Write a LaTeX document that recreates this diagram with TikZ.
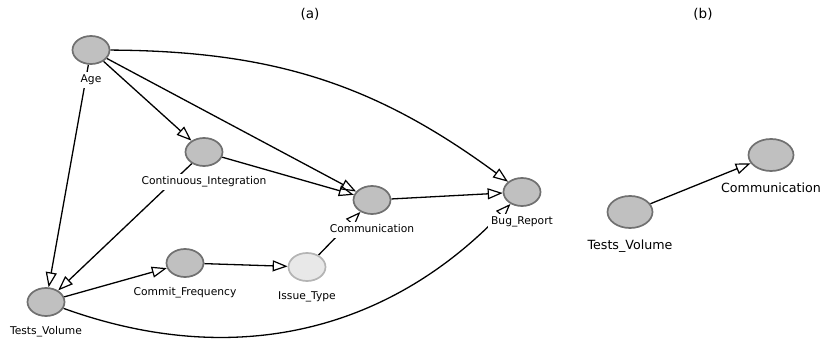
\documentclass[tikz,border=0pt]{standalone}
\usepackage{fontspec}
\setmainfont{DejaVu Sans}
\usetikzlibrary{arrows.meta,shapes.geometric,backgrounds}

\definecolor{nodefill}{HTML}{C0C0C0}
\definecolor{nodeline}{HTML}{707070}
\definecolor{latfill}{HTML}{E8E8E8}
\definecolor{latline}{HTML}{B4B4B4}

\begin{document}
\begin{tikzpicture}[x=1pt, y=1pt,
    var/.style={ellipse, draw=nodeline, fill=nodefill, line width=1.7pt,
                minimum width=37pt, minimum height=28pt, inner sep=0pt},
    latent/.style={var, draw=latline, fill=latfill},
    bigvar/.style={var, minimum width=45pt, minimum height=32pt},
    lbl/.style={fill=white, inner sep=3pt, text height=8pt, text depth=2.5pt,
                font=\fontsize{10.7}{12}\selectfont},
    biglbl/.style={fill=white, inner sep=3.5pt, text height=9.5pt, text depth=3pt,
                   font=\fontsize{12.65}{14}\selectfont},
    edge/.style={line width=1.3pt,
                 -{Triangle[open, length=15pt, width=11pt, line width=1.2pt]}}]
    \useasboundingbox (0, 0) rectangle (820, 342);

    % titles
    \node[font=\fontsize{13.5}{15}\selectfont] (ta) at (310, 328) {(a)};
    \node[font=\fontsize{13.5}{15}\selectfont] (tb) at (703, 328) {(b)};

    % (a)
    \node[var, label={[lbl, label distance=6.5pt]below:Age}] (age) at (91, 292) {};
    \node[var, label={[lbl, label distance=6.5pt]below:Continuous\_Integration}] (ci) at (204, 190) {};
    \node[var, label={[lbl, label distance=6.5pt]below:Tests\_Volume}] (tv) at (46, 40) {};
    \node[var, label={[lbl, label distance=6.5pt]below:Commit\_Frequency}] (cf) at (185, 79) {};
    \node[latent, label={[lbl, label distance=6.5pt]below:Issue\_Type}] (it) at (307, 75) {};
    \node[var, label={[lbl, label distance=6.5pt]below:Communication}] (comm) at (372, 142) {};
    \node[var, label={[lbl, label distance=6.5pt]below:Bug\_Report}] (bug) at (522, 150) {};

    % (b)
    \node[bigvar, label={[biglbl, label distance=7.5pt]below:Tests\_Volume}] (tvb) at (630, 130) {};
    \node[bigvar, label={[biglbl, label distance=7.5pt]below:Communication}] (commb) at (771, 187) {};

    \begin{scope}[on background layer]
        \draw[edge] (age) to (ci);
        \draw[edge] (age) to (comm);
        \draw[edge] (age) to [bend left=18] (bug);
        \draw[edge] (age) to (tv);
        \draw[edge] (ci) to (comm);
        \draw[edge] (ci) to (tv);
        \draw[edge] (tv) to (cf);
        \draw[edge] (cf) to (it);
        \draw[edge] (it) to (comm);
        \draw[edge] (comm) to (bug);
        \draw[edge] (tv) to [bend right=33] (bug);

        \draw[edge] (tvb) to (commb);
    \end{scope}
\end{tikzpicture}
\end{document}
